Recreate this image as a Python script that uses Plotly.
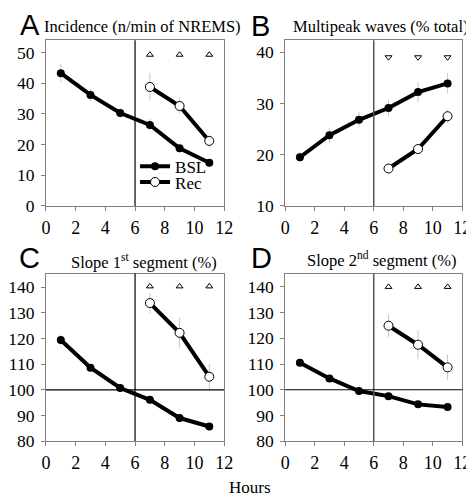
import plotly.graph_objects as go

hours = [1, 3, 5, 7, 9, 11]
rec_hours = [7, 9, 11]

inc_bsl = [43.3, 36.2, 30.3, 26.4, 18.8, 14.1]
inc_bsl_err = [3, 2, 1.5, 2, 1.5, 1]
inc_rec = [38.8, 32.6, 21.2]
inc_rec_err = [4.5, 2.5, 1.8]
inc_sig = [49.3, 49.3, 49.3]

mp_bsl = [19.5, 23.8, 26.8, 29.1, 32.2, 33.9]
mp_bsl_err = [1, 1.5, 1.5, 1.5, 2, 2]
mp_rec = [17.3, 21.1, 27.5]
mp_rec_err = [0.8, 0.8, 1.3]
mp_sig = [39.0, 39.0, 39.0]

s1_bsl = [119.4, 108.6, 100.7, 96.1, 89.0, 85.7]
s1_bsl_err = [2, 1, 1, 1, 1, 1]
s1_rec = [133.8, 122.2, 105.1]
s1_rec_err = [4, 6, 5]
s1_sig = [140.3, 140.3, 140.3]

s2_bsl = [110.5, 104.4, 99.5, 97.5, 94.3, 93.3]
s2_bsl_err = [1, 1, 1, 1, 1, 1]
s2_rec = [124.9, 117.5, 108.7]
s2_rec_err = [4.5, 5.5, 5]
s2_sig = [140, 140, 140]

W, H = 474, 498
SERIF = "Times New Roman, Liberation Serif, DejaVu Serif, Noto Serif, serif"
SANS = "Arial, Liberation Sans, Helvetica, sans-serif"

panels = [
    ("A", "Incidence (n/min of NREMS)", inc_bsl, inc_bsl_err, inc_rec, inc_rec_err, inc_sig,
     "triangle-up-open", [0, 54], (33, 217), (33, 202), "black", None, [0, 10, 20, 30, 40, 50]),
    ("B", "Multipeak waves (% total)", mp_bsl, mp_bsl_err, mp_rec, mp_rec_err, mp_sig,
     "triangle-down-open", [10, 42.3], (280, 463), (33, 202), "#555555", None, [10, 20, 30, 40]),
    ("C", "Slope 1<sup>st</sup> segment (%)", s1_bsl, s1_bsl_err, s1_rec, s1_rec_err, s1_sig,
     "triangle-up-open", [80, 145.3], (33, 217), (271, 442), "black", 100,
     [80, 90, 100, 110, 120, 130, 140]),
    ("D", "Slope 2<sup>nd</sup> segment (%)", s2_bsl, s2_bsl_err, s2_rec, s2_rec_err, s2_sig,
     "triangle-up-open", [80, 145.2], (280, 463), (271, 442), "#555555", 100,
     [80, 90, 100, 110, 120, 130, 140]),
]

letter_pos = [(4, 17), (243, 18), (3, 255), (243, 255)]
title_pos = [(132.5, 19), (379.5, 19), (134.5, 259), (380, 257)]

legend_common = dict(xanchor="left", yanchor="middle",
                     font=dict(family=SERIF, size=17, color="black"),
                     bgcolor="rgba(0,0,0,0)", itemwidth=30)

fig = go.Figure()
layout = dict(
    width=W, height=H, margin=dict(l=0, r=0, t=0, b=0),
    paper_bgcolor="white", plot_bgcolor="white",
    showlegend=True,
    legend=dict(x=125 / W, y=1 - 162 / H, **legend_common),
    legend2=dict(x=125 / W, y=1 - 178 / H, **legend_common),
    annotations=[], shapes=[],
)

for i, (letter, title, bsl, bsle, rec, rece, sig, sym, yr, xpx, ypx, vcol, hline, yt) in enumerate(panels):
    n = "" if i == 0 else str(i + 1)
    xa, ya = "x" + n, "y" + n
    layout["xaxis" + n] = dict(
        domain=[xpx[0] / W, xpx[1] / W], range=[0, 12], anchor=ya,
        tickvals=[0, 2, 4, 6, 8, 10, 12], ticks="outside", ticklen=4, tickcolor="#808080",
        showline=True, linecolor="#808080", linewidth=1, mirror=True,
        showgrid=False, zeroline=False, ticklabelstandoff=1,
        tickfont=dict(family=SERIF, size=18, color="black"),
    )
    layout["yaxis" + n] = dict(
        domain=[1 - ypx[1] / H, 1 - ypx[0] / H], range=yr, anchor=xa,
        tickvals=yt, ticks="outside", ticklen=4, tickcolor="#808080",
        showline=True, linecolor="#808080", linewidth=1, mirror=True,
        showgrid=False, zeroline=False, ticklabelstandoff=3,
        tickfont=dict(family=SERIF, size=17.5, color="black"),
    )
    layout["shapes"].append(dict(type="line", xref=xa, yref=ya + " domain", x0=6, x1=6, y0=0, y1=1,
                                 line=dict(color=vcol, width=1.5 if vcol != "black" else 1.2)))
    if hline is not None:
        layout["shapes"].append(dict(type="line", xref=xa + " domain", yref=ya, x0=0, x1=1,
                                     y0=hline, y1=hline, line=dict(color="black", width=1.2)))
    fig.add_trace(go.Scatter(
        x=hours, y=bsl, xaxis=xa, yaxis=ya, mode="lines+markers", name="BSL",
        showlegend=(i == 0), legend="legend",
        line=dict(color="black", width=4),
        marker=dict(symbol="circle", size=8, color="black"),
        error_y=dict(type="data", array=bsle, color="#c8c8c8", thickness=1, width=0),
    ))
    fig.add_trace(go.Scatter(
        x=rec_hours, y=rec, xaxis=xa, yaxis=ya, mode="lines+markers", name="Rec",
        showlegend=(i == 0), legend="legend2",
        line=dict(color="black", width=4),
        marker=dict(symbol="circle", size=9, color="white", line=dict(color="black", width=1)),
        error_y=dict(type="data", array=rece, color="#c8c8c8", thickness=1, width=0),
    ))
    fig.add_trace(go.Scatter(
        x=rec_hours, y=sig, xaxis=xa, yaxis=ya, mode="markers", showlegend=False,
        marker=dict(symbol=sym, size=6, color="black", line=dict(width=1)),
    ))
    lx, ly = letter_pos[i]
    layout["annotations"].append(dict(
        text=letter, xref="paper", yref="paper", x=lx / W, y=1 - ly / H,
        xanchor="left", yanchor="middle", showarrow=False,
        font=dict(family=SANS, size=29, color="black")))
    tx, ty = title_pos[i]
    layout["annotations"].append(dict(
        text=title, xref="paper", yref="paper", x=tx / W, y=1 - ty / H,
        xanchor="center", yanchor="middle", showarrow=False,
        font=dict(family=SERIF, size=16.5, color="black")))

layout["annotations"].append(dict(
    text="Hours", xref="paper", yref="paper", x=244 / W, y=1 - 489 / H,
    xanchor="center", yanchor="middle", showarrow=False,
    font=dict(family=SERIF, size=17, color="black")))

fig.update_layout(**layout)
fig.write_html("out.html")
